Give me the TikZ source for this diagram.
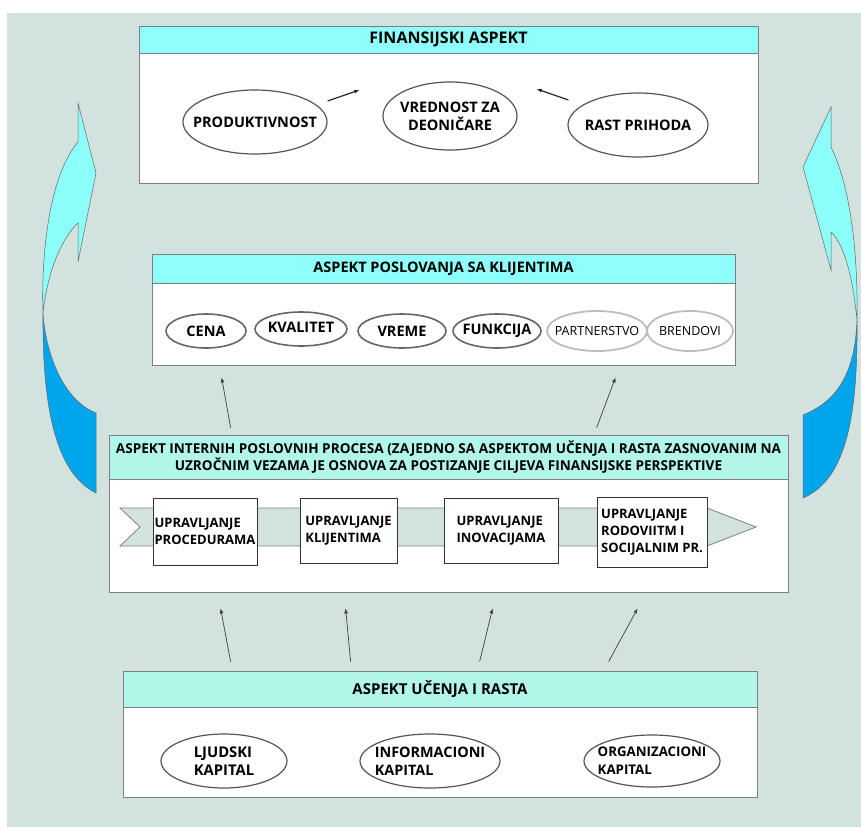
\documentclass[tikz,border=0pt]{standalone}
\usepackage{fontspec}
\setmainfont{Open Sans}
\usepackage{tikz}
\usetikzlibrary{shapes.geometric, positioning, arrows.meta}

\definecolor{bgteal}{HTML}{D2E3DF}
\definecolor{headcyan}{HTML}{8EFFFA}
\definecolor{headmint}{HTML}{B2F5E9}
\definecolor{lightblue}{HTML}{8CFFFA}
\definecolor{deepblue}{HTML}{00A6EB}
\definecolor{boxgray}{HTML}{808080}
\definecolor{ovalgray}{HTML}{555555}
\definecolor{palegray}{HTML}{BDBDBD}

\begin{document}
\begin{tikzpicture}[
    x=1pt, y=-1pt, >={Latex[length=5pt, width=4pt]},
    panel/.style={draw=boxgray, fill=white, line width=0.8pt, inner sep=0pt},
    cyanhead/.style={panel, fill=headcyan, anchor=north, font=\bfseries\fontsize{16}{18}\selectfont},
    minthead/.style={panel, fill=headmint, anchor=north, align=center, font=\bfseries\fontsize{13.6}{17}\selectfont},
    oval/.style={ellipse, draw=ovalgray, line width=1.2pt, fill=white, inner ysep=0pt, inner xsep=-25pt,
        align=center, font=\bfseries\fontsize{14.5}{18}\selectfont},
    midoval/.style={oval, line width=1.6pt, draw=black!60},
    paleoval/.style={oval, draw=palegray, line width=1.8pt, font=\fontsize{12.5}{15}\selectfont},
    capoval/.style={oval, align=left, font=\bfseries\fontsize{14.8}{18}\selectfont},
    procbox/.style={draw=black!80, fill=white, line width=0.9pt, inner sep=1pt, align=left, font=\bfseries\fontsize{13}{17}\selectfont},
    band/.style={draw=boxgray, fill=bgteal, line width=0.8pt},
    arr/.style={->, draw=black!75, line width=0.7pt},
    boldarr/.style={arr, draw=black!85, line width=1.2pt},
    lightpart/.style={draw=black!60, fill=lightblue, line width=0.5pt},
    deeppart/.style={draw=black!60, fill=deepblue, line width=0.5pt}
]
    \useasboundingbox (0,0) rectangle (861,827);
    \fill[white] (0,0) rectangle (861,827);
    \fill[bgteal] (7,13) rectangle (861,827);

    % curved arrows at the sides
    \draw[lightpart] (43,313) .. controls (47,275) and (60,240) .. (78,223) -- (78,262) -- (96,173)
        -- (78,103) -- (78,142) .. controls (50,175) and (41,250) .. (43,313) -- cycle;
    \draw[deeppart] (43,313) .. controls (42,420) and (60,475) .. (96,493) -- (96,413)
        .. controls (62,400) and (45,350) .. (43,313) -- cycle;
    \draw[lightpart] (857,320) .. controls (853,280) and (845,245) .. (831,232) -- (831,270) -- (803,167)
        -- (831,107) -- (831,147) .. controls (852,190) and (858,260) .. (857,320) -- cycle;
    \draw[deeppart] (857,320) .. controls (858,420) and (845,480) .. (803,498) -- (803,415)
        .. controls (840,400) and (855,370) .. (857,320) -- cycle;

    % finansijski aspekt
    \node[panel, minimum width=619, minimum height=157] (fin) at (448.5,104.5) {};
    \node[cyanhead, minimum width=619, minimum height=27] (finhead) at (fin.north) {FINANSIJSKI ASPEKT};
    \node[oval, minimum width=144, minimum height=64] (prod) at (255,122) {PRODUKTIVNOST};
    \node[oval, minimum width=134, minimum height=68] (vred) at (450,116) {VREDNOST ZA\\DEONIČARE};
    \node[oval, minimum width=140, minimum height=64] (rast) at (638,125) {RAST PRIHODA};
    \path (prod.east) ++(0,-21) coordinate (p1) (vred.west) ++(-23,-26) coordinate (v1)
          (rast.west) ++(1,-25) coordinate (r1) (vred.east) ++(19,-27) coordinate (v2);
    \draw[boldarr] (p1) -- (v1);
    \draw[boldarr] (r1) -- (v2);

    % aspekt poslovanja sa klijentima
    \node[panel, minimum width=583, minimum height=111] (kli) at (443.5,309.5) {};
    \node[cyanhead, minimum width=583, minimum height=29, font=\bfseries\fontsize{14.5}{18}\selectfont] (klihead) at (kli.north) {ASPEKT POSLOVANJA SA KLIJENTIMA};
    \node[midoval, minimum width=80, minimum height=34] (cena) at (206,331) {CENA};
    \node[midoval, minimum width=92, minimum height=34] (kval) at (301,329) {\raisebox{3pt}{KVALITET}};
    \node[midoval, minimum width=88, minimum height=34] (vreme) at (402,331) {VREME};
    \node[midoval, minimum width=88, minimum height=34] (funk) at (497,331) {FUNKCIJA};
    \node[paleoval, minimum width=100, minimum height=40] (part) at (597,331) {PARTNERSTVO};
    \node[paleoval, minimum width=86, minimum height=40] (brend) at (690,331) {BRENDOVI};

    % aspekt internih poslovnih procesa
    \node[panel, minimum width=679, minimum height=157] (pro) at (448.5,513.5) {};
    \node[minthead, minimum width=679, minimum height=44] (prohead) at (pro.north)
        {ASPEKT INTERNIH POSLOVNIH PROCESA (ZAJEDNO SA ASPEKTOM UČENJA I RASTA ZASNOVANIM NA\\
         UZROČNIM VEZAMA JE OSNOVA ZA POSTIZANJE CILJEVA FINANSIJSKE PERSPEKTIVE};
    \draw[band] (120,508) -- (707,508) -- (756,527) -- (707,546) -- (120,546) -- (140,527) -- cycle;
    \node[procbox, minimum width=104, minimum height=67] (proc1) at (205,531.5) {UPRAVLJANJE\\PROCEDURAMA};
    \node[procbox, minimum width=97, minimum height=65] (proc2) at (348.5,530.5) {UPRAVLJANJE\\KLIJENTIMA};
    \node[procbox, minimum width=114, minimum height=65] (proc3) at (501,530.5) {UPRAVLJANJE\\INOVACIJAMA};
    \node[procbox, minimum width=110, minimum height=70] (proc4) at (652,532) {UPRAVLJANJE\\RODOVIITM I\\SOCIJALNIM PR.};
    \path (pro.north west) ++(122,-7) coordinate (k1) (pro.north west) ++(488,-7) coordinate (k2)
          (kli.south west) ++(70,12) coordinate (c1) (kli.south west) ++(464,12) coordinate (c2);
    \draw[arr] (k1) -- (c1);
    \draw[arr] (k2) -- (c2);

    % aspekt ucenja i rasta
    \node[panel, minimum width=634, minimum height=126] (uce) at (440,734) {};
    \node[minthead, minimum width=634, minimum height=36, font=\bfseries\fontsize{15}{17}\selectfont] (ucehead) at (uce.north) {ASPEKT UČENJA I RASTA};
    \node[capoval, minimum width=126, minimum height=54] (ljud) at (224,761) {LJUDSKI\\KAPITAL};
    \node[capoval, minimum width=140, minimum height=54, font=\bfseries\fontsize{14.4}{18}\selectfont] (info) at (430,761) {INFORMACIONI\\KAPITAL};
    \node[capoval, minimum width=136, minimum height=52, font=\bfseries\fontsize{13.3}{18}\selectfont] (orga) at (652,761) {ORGANIZACIONI\\KAPITAL};
    \foreach \i/\a/\b in {1/108/112, 2/228/237, 3/357/384, 4/486/529} {
        \path (uce.north west) ++(\a,-9) coordinate (u\i) (pro.south west) ++(\b,16) coordinate (q\i);
        \draw[arr] (u\i) -- (q\i);
    }
\end{tikzpicture}
\end{document}
